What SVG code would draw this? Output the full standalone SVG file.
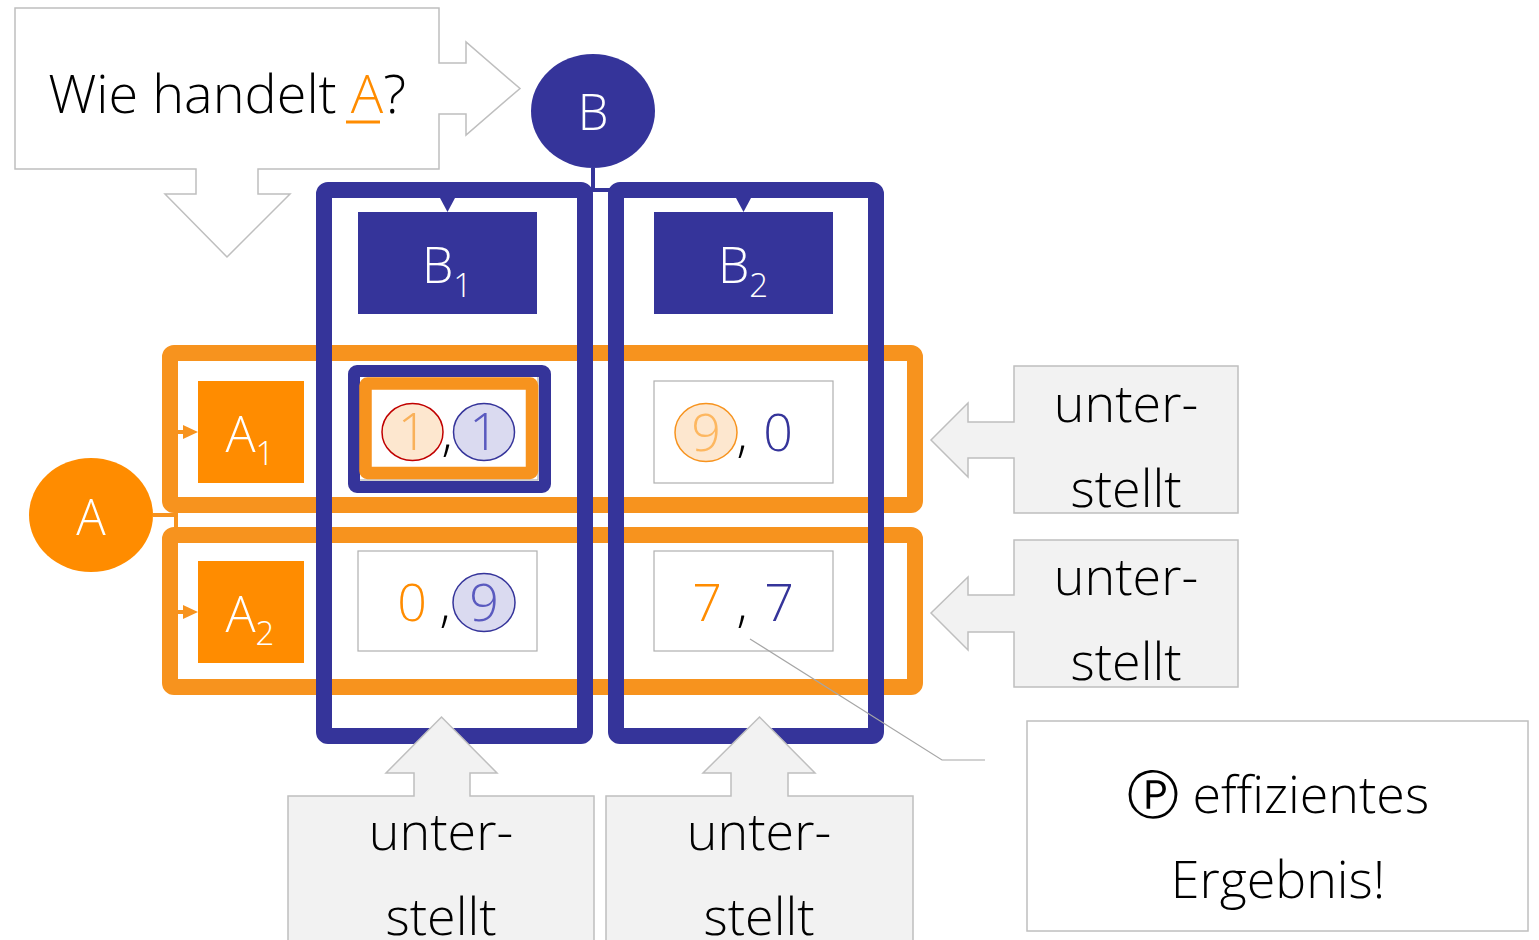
<svg xmlns="http://www.w3.org/2000/svg" width="1539" height="940" viewBox="0 0 1539 940">
<style>
text{font-family:"Open Sans","Liberation Sans",sans-serif;font-weight:300}
.callout{fill:#fff;stroke:#bfbfbf;stroke-width:1.5}
.gcall{fill:#f2f2f2;stroke:#bfbfbf;stroke-width:1.5}
.big{font-size:52px;fill:#000;text-anchor:middle}
.row{fill:none;stroke:#f7931e;stroke-width:16}
.col{fill:none;stroke:#35349a;stroke-width:16}
.bnode{fill:#35349a}
.onode{fill:#ff8c00}
.wt{fill:#fff;text-anchor:middle;font-size:50px}
.cell{fill:#fff;stroke:#b0b0b0;stroke-width:1.2}
.dig{font-size:52px;text-anchor:middle}
.com{font-size:52px;text-anchor:middle;fill:#000}
.conn{stroke-width:4;fill:none}
</style>
<g id="rows">
<rect x="170" y="353" width="745" height="152" rx="4" class="row"/>
<rect x="170" y="535" width="745" height="152" rx="4" class="row"/>
</g>
<g id="columns">
<rect x="324" y="190" width="261" height="546" rx="4" class="col"/>
<rect x="616" y="190" width="260" height="546" rx="4" class="col"/>
</g>
<g id="connectors">
<path d="M593,168 V190 H612" stroke="#35349a" class="conn"/>
<polygon points="440,198 455,198 447.5,212" fill="#35349a"/>
<polygon points="736,198 751,198 743.5,212" fill="#35349a"/>
<path d="M153,515 H176 M176,505 V535" stroke="#f7931e" class="conn"/>
<line x1="178" y1="432" x2="186" y2="432" stroke="#f7931e" stroke-width="4"/>
<polygon points="183,425 198,432 183,439" fill="#f7931e"/>
<line x1="178" y1="612" x2="186" y2="612" stroke="#f7931e" stroke-width="4"/>
<polygon points="183,605 198,612 183,619" fill="#f7931e"/>
</g>
<g id="question">
<path class="callout" d="M15,8 H439 V63 H466 V42 L520,88.5 L466,135 V114 H439 V169 H258 V194 H290 L227,257 L165,194 H196 V169 H15 Z"/>
<text x="227" y="113" class="big" style="font-size:54px">Wie handelt <tspan fill="#ff8c00">A</tspan>?</text>
<line x1="346" y1="122" x2="380" y2="122" stroke="#ff8c00" stroke-width="3"/>
</g>
<g id="B">
<ellipse cx="593" cy="111" rx="62" ry="57" class="bnode"/>
<text x="593" y="130" class="wt" style="font-size:49px">B</text>
</g>
<g id="B1">
<rect x="358" y="212" width="179" height="102" class="bnode"/>
<text x="447" y="283" class="wt">B<tspan style="font-size:33px" dy="14">1</tspan></text>
</g>
<g id="B2">
<rect x="654" y="212" width="179" height="102" class="bnode"/>
<text x="743" y="283" class="wt">B<tspan style="font-size:33px" dy="14">2</tspan></text>
</g>
<g id="A">
<ellipse cx="91" cy="515" rx="62" ry="57" class="onode"/>
<text x="91" y="535" class="wt" style="font-size:49px">A</text>
</g>
<g id="A1">
<rect x="198" y="381" width="106" height="102" class="onode"/>
<text x="250" y="452" class="wt">A<tspan style="font-size:33px" dy="13">1</tspan></text>
</g>
<g id="A2">
<rect x="198" y="561" width="106" height="102" class="onode"/>
<text x="250" y="632" class="wt">A<tspan style="font-size:33px" dy="13">2</tspan></text>
</g>
<g id="cell11">
<rect x="358" y="376" width="180" height="104" class="cell"/>
<rect x="354" y="371" width="191" height="116" rx="3" fill="none" stroke="#35349a" stroke-width="12"/>
<rect x="365.5" y="383.5" width="166.5" height="89.5" rx="2" fill="none" stroke="#f7931e" stroke-width="12.5"/>
<ellipse cx="412.5" cy="432" rx="30.5" ry="28.5" fill="#fde7cf" stroke="#c00000" stroke-width="1.5"/>
<text x="412.5" y="450" class="dig" fill="#f9b15a">1</text>
<text x="447" y="450" class="com">,</text>
<ellipse cx="484" cy="432" rx="30.5" ry="28.5" fill="#dadaf0" stroke="#35349a" stroke-width="1.5"/>
<text x="484" y="450" class="dig" fill="#5a5abf">1</text>
</g>
<g id="cell12">
<rect x="654" y="381" width="179" height="102" class="cell"/>
<ellipse cx="706" cy="432.5" rx="31" ry="29" fill="#fde7cf" stroke="#f7931e" stroke-width="1.5"/>
<text x="706" y="451" class="dig" fill="#fdb760">9</text>
<text x="742" y="451" class="com">,</text>
<text x="778" y="451" class="dig" fill="#35349a">0</text>
</g>
<g id="cell21">
<rect x="358" y="551" width="179" height="100" class="cell"/>
<text x="412" y="621" class="dig" fill="#ff8c00">0</text>
<text x="445" y="621" class="com">,</text>
<ellipse cx="484" cy="602.5" rx="31" ry="29" fill="#dadaf0" stroke="#35349a" stroke-width="1.5"/>
<text x="484" y="621" class="dig" fill="#5a5abf">9</text>
</g>
<g id="cell22">
<rect x="654" y="551" width="179" height="100" class="cell"/>
<text x="707" y="621" class="dig" fill="#ff8c00">7</text>
<text x="742" y="621" class="com">,</text>
<text x="779" y="621" class="dig" fill="#35349a">7</text>
</g>
<g id="callout-r1">
<path class="gcall" d="M1014,366 H1238 V513 H1014 V458 H968 V477 L931,440 L968,403 V422 H1014 Z"/>
<text x="1126" y="422" class="big">unter-</text>
<text x="1126" y="507" class="big">stellt</text>
</g>
<g id="callout-r2">
<path class="gcall" d="M1014,540 H1238 V687 H1014 V632 H968 V650 L931,613 L968,577 V595 H1014 Z"/>
<text x="1126" y="595" class="big">unter-</text>
<text x="1126" y="680" class="big">stellt</text>
</g>
<g id="callout-b1">
<path class="gcall" d="M288,796 H414 V773 H386 L441.5,717 L497,773 H470 V796 H594 V950 H288 Z"/>
<text x="441" y="850" class="big">unter-</text>
<text x="441" y="935" class="big">stellt</text>
</g>
<g id="callout-b2">
<path class="gcall" d="M606,796 H731 V773 H703 L759.5,717 L815,773 H788 V796 H913 V950 H606 Z"/>
<text x="759" y="850" class="big">unter-</text>
<text x="759" y="935" class="big">stellt</text>
</g>
<g id="efficient">
<rect x="1027" y="721" width="501" height="210" class="callout"/>
<text x="1278" y="813" class="big">Ⓟ effizientes</text>
<text x="1278" y="898" class="big">Ergebnis!</text>
<polyline points="750,639 942,760 985,760" fill="none" stroke="#a6a6a6" stroke-width="1.2"/>
</g>
</svg>
